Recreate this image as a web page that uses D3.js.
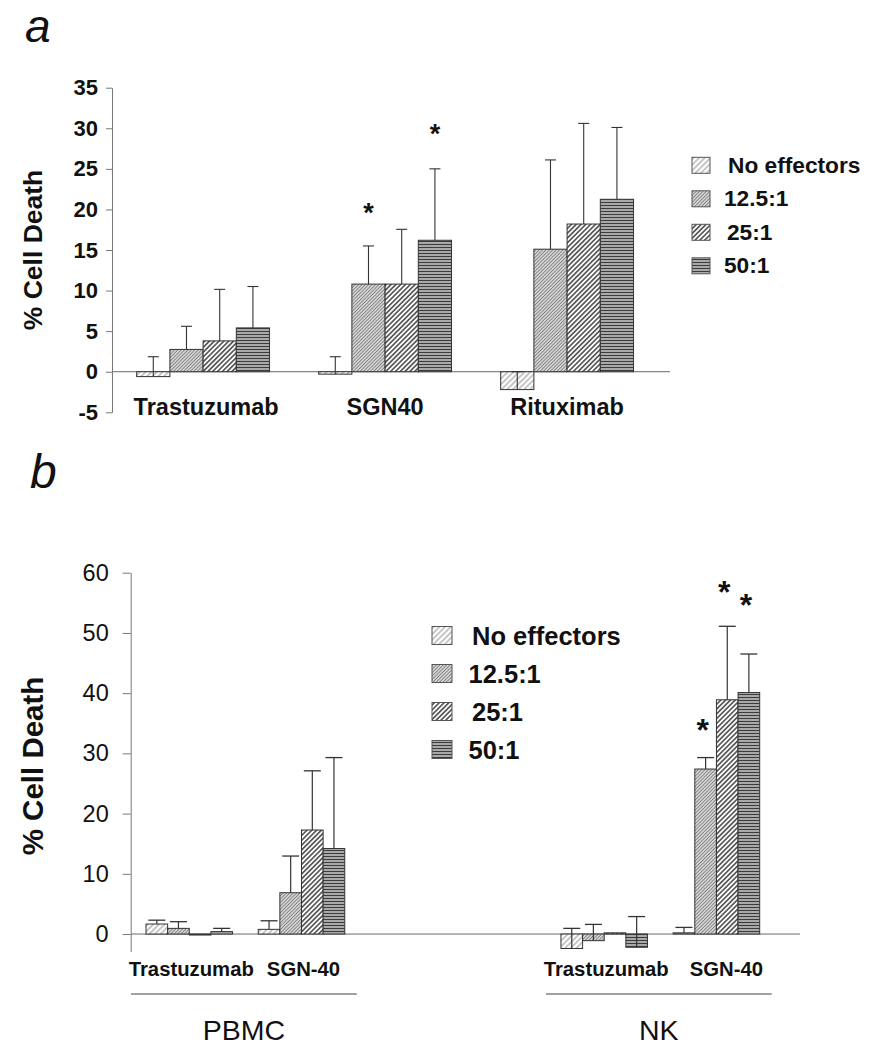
<!DOCTYPE html>
<html><head><meta charset="utf-8">
<script src="https://cdn.jsdelivr.net/npm/d3@7"></script>
<style>
body{margin:0;background:#fff}
svg{display:block}
text{font-family:"Liberation Sans", Arial, sans-serif;fill:#111}
</style>
</head><body><svg id="chart" width="869" height="1050"></svg>
<script>
// ---------- Panel a data ----------
const seriesNames = ["No effectors", "12.5:1", "25:1", "50:1"];
const aCategories = ["Trastuzumab", "SGN40", "Rituximab"];
const aNoEffectors = [-0.6, -0.3, -2.2];
const a12_5 = [2.75, 10.8, 15.1];
const a25 = [3.8, 10.8, 18.2];
const a50 = [5.4, 16.2, 21.25];
const aErrNoEffectors = [1.85, 1.85, 0];
const aErr12_5 = [5.6, 15.5, 26.1];
const aErr25 = [10.15, 17.55, 30.6];
const aErr50 = [10.5, 25.0, 30.1];
const aTicks = [-5, 0, 5, 10, 15, 20, 25, 30, 35];
const aStarCategory = ["SGN40", "SGN40"];
const aStarSeries = ["12.5:1", "50:1"];
const aStarLevel = [20.3, 30.0];

// ---------- Panel b data ----------
const bCellTypes = ["PBMC", "NK"];
const bAntibodies = ["Trastuzumab", "SGN-40"];
const bGroupCell = ["PBMC", "PBMC", "NK", "NK"];
const bGroupAb = ["Trastuzumab", "SGN-40", "Trastuzumab", "SGN-40"];
const bNoEffectors = [1.66, 0.78, -2.4, 0.2];
const b12_5 = [0.94, 6.86, -1.1, 27.4];
const b25 = [-0.15, 17.27, 0.2, 38.9];
const b50 = [0.4, 14.2, -2.2, 40.1];
const bErrNoEffectors = [2.3, 2.2, 0.94, 1.1];
const bErr12_5 = [2.05, 12.95, 1.6, 29.3];
const bErr25 = [null, 27.1, null, 51.1];
const bErr50 = [0.94, 29.3, 2.9, 46.5];
const bTicks = [0, 10, 20, 30, 40, 50, 60];
const bStarGroup = [3, 3, 3];
const bStarSeries = ["12.5:1", "25:1", "50:1"];
const bStarLevel = [35, 58, 55.8];

const svg = d3.select("#chart");
const defs = svg.append("defs");

// patterns
function diagPattern(id, size, bg, stroke, sw) {
  const p = defs.append("pattern").attr("id", id).attr("patternUnits", "userSpaceOnUse")
    .attr("width", size).attr("height", size).attr("patternTransform", "rotate(45)");
  p.append("rect").attr("width", size).attr("height", size).attr("fill", bg);
  p.append("line").attr("x1", size / 2).attr("y1", 0).attr("x2", size / 2).attr("y2", size)
    .attr("stroke", stroke).attr("stroke-width", sw);
}
diagPattern("pat0", 4, "#ffffff", "#a8a8a8", 1.3);
diagPattern("pat1", 2.4, "#e2e2e2", "#7a7a7a", 1.0);
diagPattern("pat2", 3.4, "#ffffff", "#262626", 1.3);
(function () {
  const p = defs.append("pattern").attr("id", "pat3").attr("patternUnits", "userSpaceOnUse")
    .attr("width", 6).attr("height", 3);
  p.append("rect").attr("width", 6).attr("height", 3).attr("fill", "#c4c4c4");
  p.append("line").attr("x1", 0).attr("y1", 1.5).attr("x2", 6).attr("y2", 1.5)
    .attr("stroke", "#3c3c3c").attr("stroke-width", 1.4);
})();
const patOf = d3.scaleOrdinal().domain(seriesNames).range(["url(#pat0)", "url(#pat1)", "url(#pat2)", "url(#pat3)"]);

// ================= Panel a =================
const ya = d3.scaleLinear().domain([-5, 35]).range([412.3, 87.7]);
const xa = d3.scaleBand().domain(aCategories).range([112.1, 658.1]).paddingInner(0.27).paddingOuter(0.135);
const xaSub = d3.scaleBand().domain(seriesNames).range([0, xa.bandwidth()]);
const aVals = [aNoEffectors, a12_5, a25, a50];
const aErrs = [aErrNoEffectors, aErr12_5, aErr25, aErr50];

const ga = svg.append("g");
ga.append("text").text("a").attr("x", 25).attr("y", 42).attr("font-size", 46).attr("font-style", "italic");

// zero line
ga.append("line").attr("x1", 112).attr("x2", 670).attr("y1", ya(0)).attr("y2", ya(0))
  .attr("stroke", "#6a6a6a").attr("stroke-width", 1);

// axis
const axA = ga.append("g").attr("transform", "translate(112,0)")
  .call(d3.axisLeft(ya).tickValues(aTicks).tickFormat(d => String(d)).tickSize(6).tickSizeOuter(0).tickPadding(8));
axA.select(".domain").attr("stroke", "#777");
axA.selectAll(".tick line").attr("stroke", "#777");
axA.selectAll(".tick text").attr("font-size", 22).attr("font-weight", "bold")
  .attr("font-family", "'Liberation Sans', Arial, sans-serif").attr("fill", "#111");

ga.append("text").text("% Cell Death")
  .attr("transform", "translate(42,250) rotate(-90)")
  .attr("text-anchor", "middle").attr("font-size", 26.5).attr("font-weight", "bold");

// bars
aCategories.forEach((cat, ci) => {
  seriesNames.forEach((s, si) => {
    const v = aVals[si][ci];
    const x0 = xa(cat) + xaSub(s);
    const bw = xaSub.bandwidth();
    ga.append("rect").attr("x", x0).attr("width", bw)
      .attr("y", Math.min(ya(v), ya(0))).attr("height", Math.abs(ya(v) - ya(0)))
      .attr("fill", patOf(s)).attr("stroke", "#333").attr("stroke-width", 1);
    const e = aErrs[si][ci];
    if (e !== null) {
      const cx = x0 + bw / 2;
      ga.append("line").attr("x1", cx).attr("x2", cx).attr("y1", ya(v)).attr("y2", ya(e))
        .attr("stroke", "#333").attr("stroke-width", 1.1);
      ga.append("line").attr("x1", cx - 5.5).attr("x2", cx + 5.5).attr("y1", ya(e)).attr("y2", ya(e))
        .attr("stroke", "#333").attr("stroke-width", 1.1);
    }
  });
  ga.append("text").text(cat).attr("x", xa(cat) + xa.bandwidth() / 2 + (ci === 0 ? 3 : 0)).attr("y", 415)
    .attr("text-anchor", "middle").attr("font-size", 23.5).attr("font-weight", "bold");
});

// stars
aStarCategory.forEach((cat, i) => {
  const cx = xa(cat) + xaSub(aStarSeries[i]) + xaSub.bandwidth() / 2;
  ga.append("text").text("*").attr("x", cx).attr("y", ya(aStarLevel[i]) + 15)
    .attr("text-anchor", "middle").attr("font-size", 27).attr("font-weight", "bold");
});

// legend a
seriesNames.forEach((s, i) => {
  const cy = 165.3 + i * 33.5;
  ga.append("rect").attr("x", 692).attr("y", cy - 8).attr("width", 18).attr("height", 16)
    .attr("fill", patOf(s)).attr("stroke", "#555").attr("stroke-width", 1);
  ga.append("text").text(s).attr("x", i === 0 ? 728 : (i === 2 ? 727 : 724)).attr("y", cy + 7.5)
    .attr("font-size", 22.7).attr("font-weight", "bold");
});

// ================= Panel b =================
const yb = d3.scaleLinear().domain([-2.9, 60]).range([951.5, 572.7]);
const xbOuter = d3.scaleBand().domain(bCellTypes).range([146, 759.7]).paddingInner(0.521).paddingOuter(0);
const xbInner = d3.scaleBand().domain(bAntibodies).range([0, xbOuter.bandwidth()]).paddingInner(0.229).paddingOuter(0);
const xbSub = d3.scaleBand().domain(seriesNames).range([0, xbInner.bandwidth()]);
const bVals = [bNoEffectors, b12_5, b25, b50];
const bErrs = [bErrNoEffectors, bErr12_5, bErr25, bErr50];

const gb = svg.append("g");
gb.append("text").text("b").attr("x", 30).attr("y", 488).attr("font-size", 48).attr("font-style", "italic");

gb.append("line").attr("x1", 130.7).attr("x2", 800).attr("y1", yb(0)).attr("y2", yb(0))
  .attr("stroke", "#6a6a6a").attr("stroke-width", 1);

const axB = gb.append("g").attr("transform", "translate(130.7,0)")
  .call(d3.axisLeft(yb).tickValues(bTicks).tickFormat(d => String(d)).tickSize(8).tickSizeOuter(0).tickPadding(14));
axB.select(".domain").attr("stroke", "#777");
axB.selectAll(".tick line").attr("stroke", "#777");
axB.selectAll(".tick text").attr("font-size", 23.5)
  .attr("font-family", "'Liberation Sans', Arial, sans-serif").attr("fill", "#222");

gb.append("text").text("% Cell Death")
  .attr("transform", "translate(43,766) rotate(-90)")
  .attr("text-anchor", "middle").attr("font-size", 29.5).attr("font-weight", "bold");

const groupX = gi => xbOuter(bGroupCell[gi]) + xbInner(bGroupAb[gi]);
bGroupCell.forEach((cell, gi) => {
  seriesNames.forEach((s, si) => {
    const v = bVals[si][gi];
    const x0 = groupX(gi) + xbSub(s);
    const bw = xbSub.bandwidth();
    gb.append("rect").attr("x", x0).attr("width", bw)
      .attr("y", Math.min(yb(v), yb(0))).attr("height", Math.max(1, Math.abs(yb(v) - yb(0))))
      .attr("fill", patOf(s)).attr("stroke", "#333").attr("stroke-width", 1);
    const e = bErrs[si][gi];
    if (e !== null) {
      const cx = x0 + bw / 2;
      gb.append("line").attr("x1", cx).attr("x2", cx).attr("y1", yb(v)).attr("y2", yb(e))
        .attr("stroke", "#333").attr("stroke-width", 1.2);
      gb.append("line").attr("x1", cx - 8.5).attr("x2", cx + 8.5).attr("y1", yb(e)).attr("y2", yb(e))
        .attr("stroke", "#333").attr("stroke-width", 1.3);
    }
  });
  gb.append("text").text(bGroupAb[gi]).attr("x", groupX(gi) + xbInner.bandwidth() / 2 + (bGroupAb[gi] === "SGN-40" && cell === "NK" ? 10 : 2))
    .attr("y", 976).attr("text-anchor", "middle").attr("font-size", 20.3).attr("font-weight", "bold");
});

bCellTypes.forEach(cell => {
  const x0 = xbOuter(cell) - 15, x1 = xbOuter(cell) + xbOuter.bandwidth() + 12;
  gb.append("line").attr("x1", x0).attr("x2", x1).attr("y1", 994).attr("y2", 994)
    .attr("stroke", "#444").attr("stroke-width", 1.2);
  gb.append("text").text(cell).attr("x", (x0 + x1) / 2).attr("y", 1040)
    .attr("text-anchor", "middle").attr("font-size", 28.5);
});

bStarGroup.forEach((gi, i) => {
  const cx = groupX(gi) + xbSub(bStarSeries[i]) + xbSub.bandwidth() / 2 - 3;
  gb.append("text").text("*").attr("x", cx).attr("y", yb(bStarLevel[i]) + 18)
    .attr("text-anchor", "middle").attr("font-size", 32).attr("font-weight", "bold");
});

// legend b
seriesNames.forEach((s, i) => {
  const cy = 635.5 + i * 38;
  gb.append("rect").attr("x", 432).attr("y", cy - 9).attr("width", 20).attr("height", 18)
    .attr("fill", patOf(s)).attr("stroke", "#555").attr("stroke-width", 1);
  gb.append("text").text(s).attr("x", i === 0 || i === 2 ? 472 : 468.5).attr("y", cy + 9)
    .attr("font-size", 25.5).attr("font-weight", "bold");
});
</script>
</body></html>
